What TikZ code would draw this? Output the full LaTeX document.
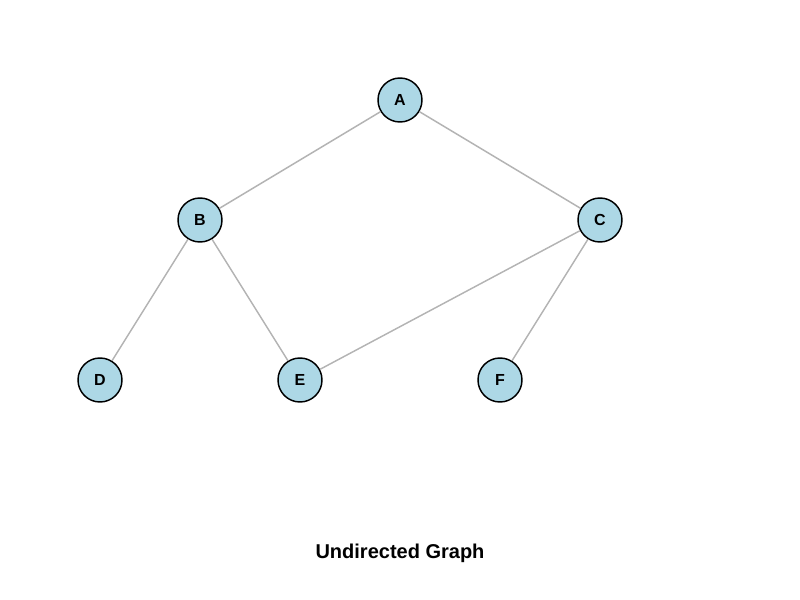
\documentclass[tikz,border=0pt]{standalone}
\usepackage{fontspec}
\setmainfont{Liberation Sans}
\definecolor{nodeblue}{RGB}{173,216,230}
\definecolor{edgegray}{RGB}{180,180,180}
\tikzset{
  vertex/.style={circle, draw=black, line width=1.1pt, fill=nodeblue,
    minimum size=33pt, inner sep=0pt, font=\bfseries\fontsize{12}{14}\selectfont},
  link/.style={draw=edgegray, line width=1.1pt}
}
\begin{document}
\begin{tikzpicture}[x=0.75pt, y=-0.75pt]
\useasboundingbox (0,0) rectangle (800,600);

\node[vertex] (A) at (400,100) {A};
\node[vertex] (B) at (200,220) {B};
\node[vertex] (C) at (600,220) {C};
\node[vertex] (D) at (100,380) {D};
\node[vertex] (E) at (300,380) {E};
\node[vertex] (F) at (500,380) {F};

\draw[link] (A) -- (B);
\draw[link] (A) -- (C);
\draw[link] (B) -- (D);
\draw[link] (B) -- (E);
\draw[link] (C) -- (E);
\draw[link] (C) -- (F);

\node[font=\bfseries\fontsize{15}{18}\selectfont] (title) at (400,553) {Undirected Graph};

\end{tikzpicture}
\end{document}
